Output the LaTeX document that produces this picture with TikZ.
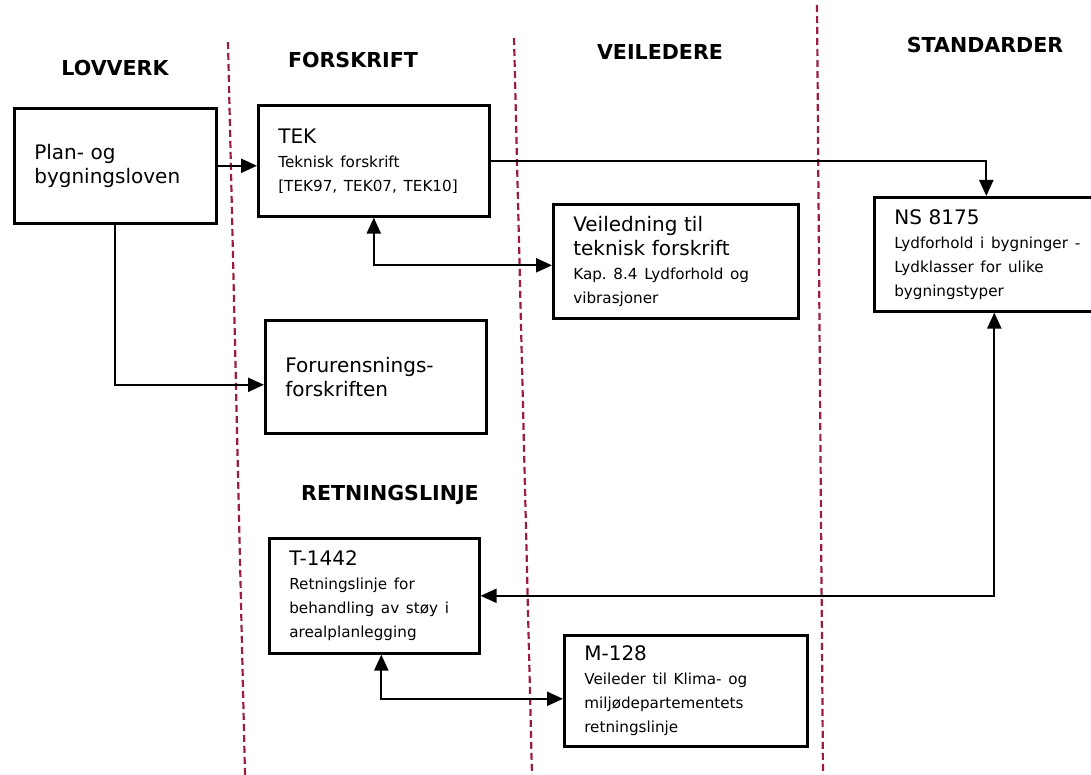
\documentclass[tikz,border=0pt]{standalone}
\usepackage{fontspec}
\setmainfont{DejaVu Sans}
\usetikzlibrary{arrows.meta}

\definecolor{skille}{HTML}{9B1D3F}
\newcommand{\stor}{\fontsize{10}{11.5}\selectfont}
\newcommand{\liten}{\fontsize{7.6}{12}\selectfont}

\begin{document}
\frenchspacing
\begin{tikzpicture}[x = 0.5pt, y = -0.5pt,
        boks/.style = {draw, line width = 1.3pt, align = left, anchor = north west, inner xsep = 10pt, inner ysep = 0pt},
        overskrift/.style = {font = \fontsize{10.3}{12}\selectfont\bfseries},
        skillelinje/.style = {skille, line width = 1.1pt, dash pattern = on 3.5pt off 2pt},
        pil/.style = {line width = 1.1pt, -{Triangle[length = 8pt, width = 7pt]}},
        dobbelpil/.style = {line width = 1.1pt, {Triangle[length = 8pt, width = 7pt]}-{Triangle[length = 8pt, width = 7pt]}}]
        \useasboundingbox (0, 0) rectangle (1091, 775);

        % skillelinjer mellom kolonnene
        \draw[skillelinje] (228, 42) -- (245, 775);
        \draw[skillelinje] (514, 38) -- (532, 775);
        \draw[skillelinje] (817, 5) -- (823, 775);

        % overskrifter
        \node[overskrift] (lovverk) at (115, 68) {LOVVERK};
        \node[overskrift] (forskrift) at (353, 60) {FORSKRIFT};
        \node[overskrift] (veiledere) at (660, 52) {VEILEDERE};
        \node[overskrift] (standarder) at (985, 45) {STANDARDER};
        \node[overskrift] (retningslinje) at (390, 495) {RETNINGSLINJE};

        % bokser
        \node[boks, text width = 81pt, minimum height = 57.5pt] (plan) at (13, 107)
            {\stor Plan- og\\ bygningsloven};
        \node[boks, text width = 95.5pt, minimum height = 55.5pt] (tek) at (257, 104)
            {{\stor TEK}\\ \liten Teknisk forskrift\\ {[}TEK97, TEK07, TEK10{]}};
        \node[boks, text width = 102.5pt, minimum height = 57pt] (veil) at (552, 203)
            {{\stor Veiledning til\\ teknisk forskrift}\\ \liten Kap. 8.4 Lydforhold og\\ vibrasjoner};
        \node[boks, text width = 100pt, minimum height = 57pt] (ns) at (873, 196)
            {{\stor NS 8175}\\ \liten Lydforhold i bygninger -\\ Lydklasser for ulike\\ bygningstyper};
        \node[boks, text width = 90.5pt, minimum height = 56.5pt] (foru) at (264, 319)
            {\stor Forurensnings-\\ forskriften};
        \node[boks, text width = 85pt, minimum height = 57.5pt] (t1442) at (268, 537)
            {{\stor T-1442}\\ \liten Retningslinje for\\ behandling av støy i\\ arealplanlegging};
        \node[boks, text width = 101.5pt, minimum height = 55.5pt] (m128) at (563, 634)
            {{\stor M-128}\\ \liten Veileder til Klima- og\\ miljødepartementets\\ retningslinje};

        % piler
        \draw[pil] (plan.east) -- (plan.east -| tek.west);
        \draw[pil] (tek.east) -| ([xshift = -4pt]ns.north);
        \draw[dobbelpil] (tek.south) |- ([yshift = -2pt]veil.west);
        \draw[pil] (plan.south) |- ([yshift = -4pt]foru.west);
        \draw[dobbelpil] (ns.south) |- (t1442.east);
        \draw[dobbelpil] ([xshift = 3.5pt]t1442.south) |- ([yshift = -4pt]m128.west);
\end{tikzpicture}
\end{document}
